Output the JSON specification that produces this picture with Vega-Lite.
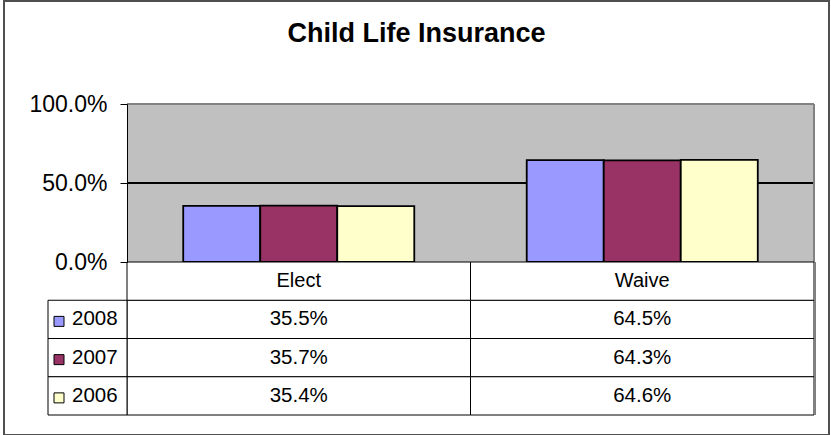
{
  "$schema": "https://vega.github.io/schema/vega-lite/v6.json",
  "width": 825,
  "height": 434,
  "autosize": {"type": "none"},
  "padding": {"left": 4, "top": 1, "right": 2, "bottom": 0},
  "background": "white",
  "title": {"text": "Child Life Insurance", "font": "Liberation Sans", "fontSize": 27, "fontWeight": "bold", "color": "black", "anchor": "middle", "frame": "group", "offset": -68, "baseline": "alphabetic"},
  "config": {"view": {"stroke": "#505050", "strokeWidth": 2}},
  "data": {"values": [
    {"cat": "Elect", "year": "2008", "value": 0.355},
    {"cat": "Elect", "year": "2007", "value": 0.357},
    {"cat": "Elect", "year": "2006", "value": 0.354},
    {"cat": "Waive", "year": "2008", "value": 0.645},
    {"cat": "Waive", "year": "2007", "value": 0.643},
    {"cat": "Waive", "year": "2006", "value": 0.646}
  ]},
  "layer": [
    {
      "encoding": {"x": {"field": "cat", "type": "nominal", "scale": {"domain": ["Elect", "Waive"], "range": [123, 810], "paddingInner": 0, "paddingOuter": 0}, "axis": null}},
      "layer": [
        {"mark": {"type": "rect", "fill": "#C0C0C0"},
         "encoding": {
           "y": {"datum": 0, "type": "quantitative", "scale": {"domain": [0, 1], "range": [261, 103], "nice": false, "zero": true},
                 "axis": {"orient": "left", "offset": -123, "values": [0, 0.5, 1], "format": ".1%", "labelFont": "Liberation Sans", "labelFontSize": 23, "labelColor": "black", "labelPadding": 13, "tickSize": 7, "tickColor": "black", "tickWidth": 1, "domainColor": "black", "domainWidth": 1, "grid": false, "title": null, "zindex": 1}},
           "y2": {"datum": 1}}},
        {"mark": {"type": "rule", "color": "black", "strokeWidth": 1},
         "encoding": {"x": {"datum": "Elect", "type": "nominal", "bandPosition": 0}, "x2": {"datum": "Waive", "bandPosition": 1}, "y": {"datum": 0.5, "type": "quantitative"}}},
        {"mark": {"type": "rule", "color": "#808080", "strokeWidth": 1},
         "encoding": {"x": {"datum": "Elect", "type": "nominal", "bandPosition": 0}, "x2": {"datum": "Waive", "bandPosition": 1}, "y": {"datum": 1, "type": "quantitative"}}},
        {"mark": {"type": "rule", "color": "#808080", "strokeWidth": 1},
         "encoding": {"x": {"datum": "Waive", "type": "nominal", "bandPosition": 1}, "y": {"datum": 0, "type": "quantitative"}, "y2": {"datum": 1}}},
        {"mark": {"type": "bar", "stroke": "black", "strokeWidth": 1.8},
         "encoding": {
           "xOffset": {"field": "year", "type": "nominal", "scale": {"domain": ["2008", "2007", "2006"], "paddingInner": 0, "paddingOuter": 0.73}},
           "y": {"field": "value", "type": "quantitative", "stack": null},
           "color": {"field": "year", "type": "nominal", "scale": {"domain": ["2008", "2007", "2006"], "range": ["#9999FF", "#993366", "#FFFFCC"]}, "legend": null}}}
      ]
    },
    {
      "encoding": {"x": {"field": "cat", "type": "nominal", "scale": {"domain": ["Elect", "Waive"], "range": [123, 810], "paddingInner": 0, "paddingOuter": 0}, "axis": null}},
      "layer": [
        {"mark": {"type": "rect", "fill": "white", "stroke": "black", "strokeWidth": 1},
         "encoding": {"y": {"field": "year", "type": "nominal", "scale": {"domain": ["hdr", "2008", "2007", "2006"], "range": [261, 414], "paddingInner": 0, "paddingOuter": 0}, "axis": null}}},
        {"mark": {"type": "text", "font": "Liberation Sans", "fontSize": 20.5, "color": "black", "baseline": "middle"},
         "encoding": {"y": {"field": "year", "type": "nominal"}, "text": {"field": "value", "type": "quantitative", "format": ".1%"}}},
        {"transform": [{"filter": "datum.year === '2008'"}],
         "mark": {"type": "rect", "fill": "white", "stroke": "black", "strokeWidth": 1},
         "encoding": {"y": {"datum": "hdr", "type": "nominal"}}},
        {"transform": [{"filter": "datum.year === '2008'"}],
         "mark": {"type": "text", "font": "Liberation Sans", "fontSize": 20, "color": "black", "baseline": "middle"},
         "encoding": {"y": {"datum": "hdr", "type": "nominal"}, "text": {"field": "cat", "type": "nominal"}}},
        {"mark": {"type": "rule", "color": "#808080", "strokeWidth": 1.5, "xOffset": 1},
         "encoding": {"x": {"datum": "Waive", "type": "nominal", "bandPosition": 1}, "y": {"datum": "hdr", "type": "nominal", "bandPosition": 0}, "y2": {"datum": "2006", "bandPosition": 1}}}
      ]
    },
    {
      "transform": [{"filter": "datum.cat === 'Elect'"}],
      "encoding": {
        "x": {"datum": "key", "type": "nominal", "scale": {"domain": ["key"], "range": [44, 123], "paddingInner": 0, "paddingOuter": 0}, "axis": null},
        "y": {"field": "year", "type": "nominal", "scale": {"domain": ["hdr", "2008", "2007", "2006"], "range": [261, 414], "paddingInner": 0, "paddingOuter": 0}, "axis": null}},
      "layer": [
        {"mark": {"type": "rect", "fill": "white", "stroke": "black", "strokeWidth": 1}},
        {"mark": {"type": "point", "shape": "square", "size": 100, "filled": true, "opacity": 1, "stroke": "black", "strokeWidth": 1, "xOffset": 11, "yOffset": 2},
         "encoding": {"x": {"datum": "key", "type": "nominal", "bandPosition": 0},
                      "color": {"field": "year", "type": "nominal", "scale": {"domain": ["2008", "2007", "2006"], "range": ["#9999FF", "#993366", "#FFFFCC"]}, "legend": null}}},
        {"mark": {"type": "text", "align": "left", "baseline": "middle", "dx": 24, "font": "Liberation Sans", "fontSize": 20.5, "color": "black"},
         "encoding": {"x": {"datum": "key", "type": "nominal", "bandPosition": 0}, "text": {"field": "year", "type": "nominal"}}}
      ]
    }
  ],
  "resolve": {"scale": {"x": "independent", "y": "independent"}}
}
